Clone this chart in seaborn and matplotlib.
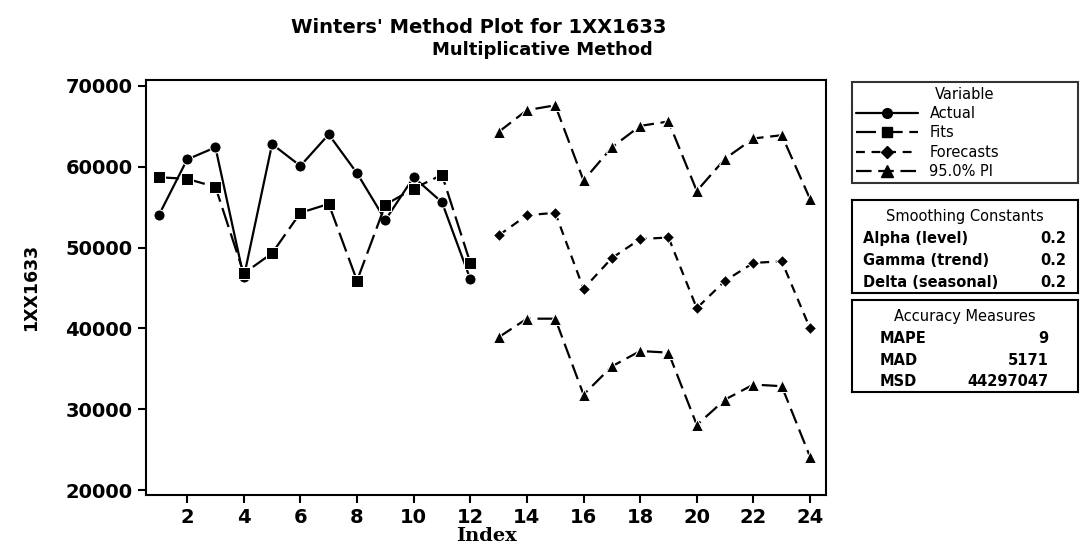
"""Winters' method plot (multiplicative) for 1XX1633."""

import matplotlib.pyplot as plt
import pandas as pd
import seaborn as sns
from matplotlib.lines import Line2D

index_fit = list(range(1, 13))
index_fc = list(range(13, 25))

actual = [54000, 60900, 62400, 46300, 62800, 60100, 64000, 59200, 53400, 58700, 55600, 46100]
fits = [58700, 58500, 57500, 46800, 49300, 54300, 55400, 45900, 55300, 57300, 59000, 48100]
forecasts = [51500, 54000, 54300, 44900, 48700, 51050, 51250, 42500, 45900, 48100, 48300, 40000]
upper_pi = [64300, 67000, 67600, 58300, 62400, 65050, 65600, 57000, 61000, 63500, 63900, 56000]
lower_pi = [38900, 41200, 41200, 31800, 35300, 37200, 37000, 28050, 31200, 33050, 32850, 24100]

smoothing_labels = ["Alpha (level)", "Gamma (trend)", "Delta (seasonal)"]
smoothing_values = ["0.2", "0.2", "0.2"]
accuracy_labels = ["MAPE", "MAD", "MSD"]
accuracy_values = ["9", "5171", "44297047"]

sns.set_style("ticks")
plt.rcParams["font.family"] = ["DejaVu Sans"]
plt.rcParams.update({"text.color": "black", "axes.labelcolor": "black",
                     "xtick.color": "black", "ytick.color": "black"})

fit_df = pd.DataFrame({"Index": index_fit, "Actual": actual, "Fits": fits})
fc_df = pd.DataFrame({"Index": index_fc, "Forecasts": forecasts,
                      "Upper": upper_pi, "Lower": lower_pi})

fig = plt.figure(figsize=(10.8, 5.55), dpi=100)
ax = fig.add_axes([0.135, 0.108, 0.630, 0.748])

line_kw = dict(color="black", linewidth=1.6, markersize=8, ax=ax)
sns.lineplot(data=fit_df, x="Index", y="Actual", marker="o", linestyle="-", **line_kw)
sns.lineplot(data=fit_df, x="Index", y="Fits", marker="s", **line_kw)
ax.lines[-1].set_dashes((9, 3))
sns.lineplot(data=fc_df, x="Index", y="Forecasts", marker="D", **line_kw)
ax.lines[-1].set_dashes((4, 3))
ax.lines[-1].set_markersize(6)
for col in ("Upper", "Lower"):
    sns.lineplot(data=fc_df, x="Index", y=col, marker="^", **line_kw)
    ax.lines[-1].set_dashes((7, 3))
    ax.lines[-1].set_markersize(9)

ax.set_xlim(0.54, 24.57)
ax.set_ylim(19380, 70740)
ax.set_xticks(range(2, 25, 2))
ax.set_yticks(range(20000, 70001, 10000))
ax.tick_params(labelsize=14, width=1.5, length=6)
for lbl in ax.get_xticklabels() + ax.get_yticklabels():
    lbl.set_fontweight("bold")
for sp in ax.spines.values():
    sp.set_visible(True)
    sp.set_linewidth(1.5)
    sp.set_color("black")
ax.set_xlabel("Index", fontsize=14, fontweight="bold", family="DejaVu Serif", labelpad=0)
ax.set_ylabel("1XX1633", fontsize=12.5, fontweight="bold", labelpad=18)

fig.text(0.443, 0.951, "Winters' Method Plot for 1XX1633", ha="center", va="center",
         fontsize=14, fontweight="bold")
fig.text(0.502, 0.910, "Multiplicative Method", ha="center", va="center",
         fontsize=13, fontweight="bold")

# variable legend
handles = [
    Line2D([], [], color="black", lw=1.6, marker="o", markersize=7, linestyle="-"),
    Line2D([], [], color="black", lw=1.6, marker="s", markersize=7, dashes=(9, 3)),
    Line2D([], [], color="black", lw=1.6, marker="D", markersize=6, dashes=(4, 3)),
    Line2D([], [], color="black", lw=1.6, marker="^", markersize=8, dashes=(7, 3)),
]
leg = fig.legend(handles, ["Actual", "Fits", "Forecasts", "95.0% PI"], title="Variable",
                 loc="upper left", bbox_to_anchor=(0.789, 0.652, 0.209, 0.2),
                 fontsize=10.5, title_fontsize=10.5, frameon=True, fancybox=False,
                 edgecolor="black", handlelength=4.2, borderaxespad=0,
                 labelspacing=0.3, borderpad=0.3, mode="expand")
leg.get_frame().set_linewidth(1.5)


def text_box(rect, title, labels, values, label_x, value_x):
    box = fig.add_axes(rect)
    box.set_xticks([])
    box.set_yticks([])
    for sp in box.spines.values():
        sp.set_linewidth(1.5)
        sp.set_color("black")
    box.text(0.5, 0.82, title, ha="center", va="center", fontsize=10.5,
             transform=box.transAxes)
    for i, (lab, val) in enumerate(zip(labels, values)):
        y = 0.58 - i * 0.235
        box.text(label_x, y, lab, ha="left", va="center", fontsize=10.5,
                 fontweight="bold", transform=box.transAxes)
        box.text(value_x, y, val, ha="right", va="center", fontsize=10.5,
                 fontweight="bold", transform=box.transAxes)


text_box([0.789, 0.472, 0.209, 0.168], "Smoothing Constants",
         smoothing_labels, smoothing_values, 0.05, 0.95)
text_box([0.789, 0.294, 0.209, 0.166], "Accuracy Measures",
         accuracy_labels, accuracy_values, 0.12, 0.87)

fig.savefig("out.png", dpi=100)
